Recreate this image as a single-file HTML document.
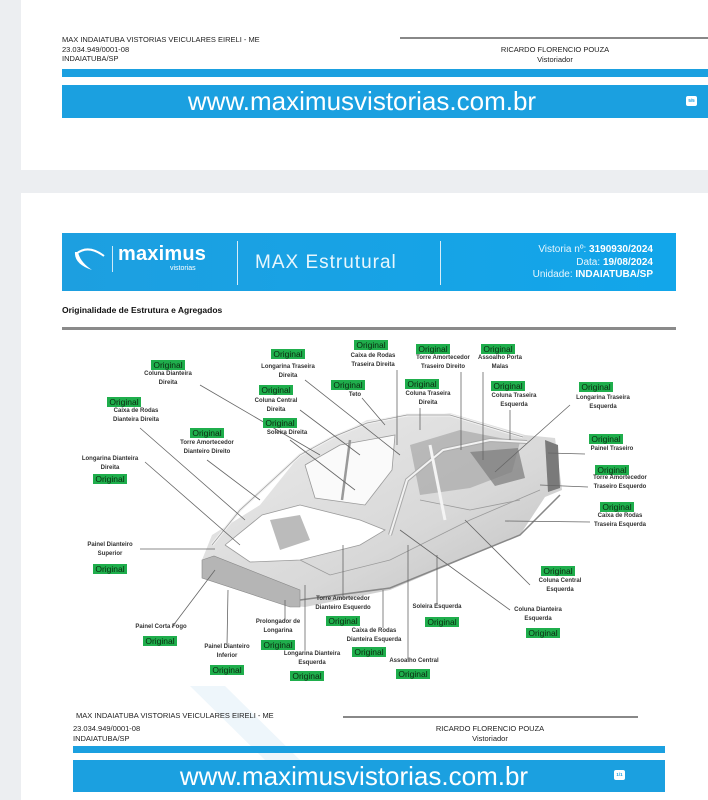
<!DOCTYPE html>
<html><head><meta charset="utf-8">
<style>
*{margin:0;padding:0;box-sizing:border-box}
body{width:708px;height:800px;background:#eceef1;position:relative;overflow:hidden;font-family:"Liberation Sans",sans-serif}
.card{position:absolute;left:21px;right:0;background:#fff}
.a{position:absolute;white-space:nowrap}
.l{position:absolute;width:110px;margin-left:-55px;text-align:center;font-size:6px;font-weight:bold;color:#333;line-height:9px;font-family:"Liberation Sans",sans-serif}
.g{position:absolute;width:60px;margin-left:-30px;text-align:center;height:10px;line-height:10px;font-size:0}
.g span{display:inline-block;vertical-align:top;background:#1fae4c;color:#0b2a10;font-size:8.5px;line-height:10px;height:10px;padding:0 2px}
.ft{font-size:7.5px;color:#222;line-height:9.5px}
.url{color:#fff;font-size:26px;text-align:center;line-height:32px}
.badge{position:absolute;width:11px;height:10px;background:#fff;border-radius:2px;font-size:4.5px;color:#1ba0e0;text-align:center;line-height:10px;font-weight:bold}
</style></head><body>
<div class="card" style="top:0;height:170px"></div>
<div class="card" style="top:193px;height:607px"></div>

<div class="a ft" style="left:62px;top:35px">MAX INDAIATUBA VISTORIAS VEICULARES EIRELI - ME<br>23.034.949/0001-08<br>INDAIATUBA/SP</div>
<div class="a" style="left:400px;top:37px;width:308px;height:2px;background:#888"></div>
<div class="a ft" style="left:470px;top:45px;width:170px;text-align:center">RICARDO FLORENCIO POUZA<br>Vistoriador</div>
<div class="a" style="left:62px;top:69px;width:646px;height:8px;background:#1ba0e0"></div>
<div class="a url" style="left:62px;top:85px;width:646px;height:33px;background:#1ba0e0;padding-right:46px">www.maximusvistorias.com.br</div>
<div class="badge" style="left:686px;top:96px">5/5</div>

<div class="a" style="left:62px;top:233px;width:614px;height:58px;background:linear-gradient(90deg,#1d9fe0,#12a6ea)"></div>
<svg class="a" style="left:72px;top:246px" width="36" height="26"><path d="M4 8 Q16 -2 32 10" stroke="#fff" stroke-width="2" fill="none"/><path d="M3 6 Q2 18 20 24 Q8 16 6 6Z" fill="#fff"/></svg>
<div class="a" style="left:112px;top:246px;width:1px;height:26px;background:#cfeaf8"></div>
<div class="a" style="left:118px;top:243px;color:#fff;font-size:20px;font-weight:bold;letter-spacing:0.2px">maximus</div>
<div class="a" style="left:170px;top:265px;color:#fff;font-size:7px">vistorias</div>
<div class="a" style="left:237px;top:241px;width:1px;height:44px;background:#d6edf9"></div>
<div class="a" style="left:255px;top:252px;color:#e8f6fd;font-size:19px;letter-spacing:1px">MAX Estrutural</div>
<div class="a" style="left:440px;top:241px;width:1px;height:44px;background:#d6edf9"></div>
<div class="a" style="left:480px;top:244px;width:173px;text-align:right;color:#e8f6fd;font-size:10px;line-height:12.5px">Vistoria nº: <b style="color:#fff">3190930/2024</b><br>Data: <b style="color:#fff">19/08/2024</b><br>Unidade: <b style="color:#fff">INDAIATUBA/SP</b></div>

<div class="a" style="left:62px;top:305px;font-size:8.5px;font-weight:bold;color:#111">Originalidade de Estrutura e Agregados</div>
<div class="a" style="left:62px;top:327px;width:614px;height:3px;background:#8a8a8a"></div>

<svg class="a" style="left:0;top:0" width="708" height="800"><polygon points="190,686 225,686 300,760 265,760" fill="#eef6fb"/></svg>

<svg class="a" style="left:0;top:0" width="708" height="800">
<defs><linearGradient id="cg" x1="0" y1="0" x2="1" y2="1"><stop offset="0" stop-color="#ececec"/><stop offset="0.6" stop-color="#d8d8d8"/><stop offset="1" stop-color="#bdbdbd"/></linearGradient></defs>
<polygon points="202,560 212,535 260,505 300,455 367,420 450,413 525,435 555,438 562,490 545,497 520,535 390,590 305,607 285,605 202,578" fill="url(#cg)"/>
<polygon points="225,545 262,515 300,505 360,520 385,530 360,545 300,560 250,562" fill="#fff"/>
<polygon points="305,465 340,445 395,435 392,470 365,505 315,498" fill="#fafafa"/>
<polygon points="410,445 460,430 520,442 512,472 470,488 420,495" fill="#a8a8a8" opacity="0.7"/>
<polygon points="470,452 518,448 525,478 495,486" fill="#7a7a7a" opacity="0.7"/>
<polygon points="545,440 558,445 560,488 548,492" fill="#7a7a7a"/>
<polygon points="270,520 300,515 310,540 280,550" fill="#777" opacity="0.5"/>
<g stroke="#9a9a9a" stroke-width="0.8" fill="none">
<polyline points="225,545 262,515 300,505 360,520 385,530 360,545 300,560 250,562 225,545"/>
<polyline points="305,465 340,445 395,435 392,470 365,505 315,498 305,465"/>
<polyline points="300,560 330,575 390,560 470,520 540,490"/>
<polyline points="420,500 470,510 520,500"/>
</g>
<polyline points="390,535 407,480 443,450 490,440 527,442" stroke="#aaa" stroke-width="4" fill="none"/>
<polyline points="390,535 407,480 443,450 490,440 527,442" stroke="#f2f2f2" stroke-width="2" fill="none"/>
<polyline points="212,545 240,510 300,455 333,437 367,423 407,415 450,415 523,437" stroke="#f0f0f0" stroke-width="3" fill="none"/>
<polyline points="212,545 240,510 300,455 333,437 367,423 407,415 450,415 523,437" stroke="#999" stroke-width="0.7" fill="none"/>
<polygon points="202,560 214,556 300,590 300,607 290,607 202,578" fill="#b5b5b5" stroke="#888" stroke-width="0.6"/>
<polyline points="300,600 390,588 520,535 560,495" stroke="#888" stroke-width="1.5" fill="none"/>
<line x1="350" y1="440" x2="342" y2="500" stroke="#999" stroke-width="2.5"/>
<line x1="430" y1="445" x2="445" y2="520" stroke="#f4f4f4" stroke-width="3"/>
</svg>

<svg class="a" style="left:0;top:0" width="708" height="800" stroke="#666" stroke-width="0.8" fill="none">
<path d="M200 385L320 455M140 428L245 520M207 460L260 500M145 462L240 545M140 549L215 549M172 627L215 570M227 645L228 590M285 620L285 600M305 650L305 585M343 597L343 545M383 628L383 590M408 660L408 545M437 605L437 555M510 610L400 530M530 585L465 520M590 522L505 521M588 487L540 485M585 454L548 453M570 405L495 472M510 410L510 440M483 372L483 460M461 372L461 450M397 370L397 445M420 408L420 430M362 398L385 425M305 380L400 455M300 410L360 455M290 440L355 490"/>
</svg>

<div class="g" style="left:168px;top:360px"><span>Original</span></div><div class="l" style="left:168px;top:370px">Coluna Dianteira<br>Direita</div>
<div class="g" style="left:124px;top:397px"><span>Original</span></div><div class="l" style="left:136px;top:407px">Caixa de Rodas<br>Dianteira Direita</div>
<div class="g" style="left:207px;top:428px"><span>Original</span></div><div class="l" style="left:207px;top:439px">Torre Amortecedor<br>Dianteiro Direito</div>
<div class="l" style="left:110px;top:455px">Longarina Dianteira<br>Direita</div><div class="g" style="left:110px;top:474px"><span>Original</span></div>
<div class="l" style="left:110px;top:541px">Painel Dianteiro<br>Superior</div><div class="g" style="left:110px;top:564px"><span>Original</span></div>
<div class="l" style="left:161px;top:623px">Painel Corta Fogo</div><div class="g" style="left:160px;top:636px"><span>Original</span></div>
<div class="l" style="left:227px;top:643px">Painel Dianteiro<br>Inferior</div><div class="g" style="left:227px;top:665px"><span>Original</span></div>
<div class="l" style="left:278px;top:618px">Prolongador de<br>Longarina</div><div class="g" style="left:278px;top:640px"><span>Original</span></div>
<div class="l" style="left:312px;top:650px">Longarina Dianteira<br>Esquerda</div><div class="g" style="left:307px;top:671px"><span>Original</span></div>
<div class="l" style="left:343px;top:595px">Torre Amortecedor<br>Dianteiro Esquerdo</div><div class="g" style="left:343px;top:616px"><span>Original</span></div>
<div class="l" style="left:374px;top:627px">Caixa de Rodas<br>Dianteira Esquerda</div><div class="g" style="left:369px;top:647px"><span>Original</span></div>
<div class="l" style="left:414px;top:657px">Assoalho Central</div><div class="g" style="left:413px;top:669px"><span>Original</span></div>
<div class="l" style="left:437px;top:603px">Soleira Esquerda</div><div class="g" style="left:442px;top:617px"><span>Original</span></div>
<div class="l" style="left:538px;top:606px">Coluna Dianteira<br>Esquerda</div><div class="g" style="left:543px;top:628px"><span>Original</span></div>
<div class="g" style="left:558px;top:566px"><span>Original</span></div><div class="l" style="left:560px;top:577px">Coluna Central<br>Esquerda</div>
<div class="g" style="left:617px;top:502px"><span>Original</span></div><div class="l" style="left:620px;top:512px">Caixa de Rodas<br>Traseira Esquerda</div>
<div class="g" style="left:612px;top:465px"><span>Original</span></div><div class="l" style="left:620px;top:474px">Torre Amortecedor<br>Traseiro Esquerdo</div>
<div class="g" style="left:606px;top:434px"><span>Original</span></div><div class="l" style="left:612px;top:445px">Painel Traseiro</div>
<div class="g" style="left:596px;top:382px"><span>Original</span></div><div class="l" style="left:603px;top:394px">Longarina Traseira<br>Esquerda</div>
<div class="g" style="left:508px;top:381px"><span>Original</span></div><div class="l" style="left:514px;top:392px">Coluna Traseira<br>Esquerda</div>
<div class="g" style="left:498px;top:344px"><span>Original</span></div><div class="l" style="left:500px;top:354px">Assoalho Porta<br>Malas</div>
<div class="g" style="left:433px;top:344px"><span>Original</span></div><div class="l" style="left:443px;top:354px">Torre Amortecedor<br>Traseiro Direito</div>
<div class="g" style="left:422px;top:379px"><span>Original</span></div><div class="l" style="left:428px;top:390px">Coluna Traseira<br>Direita</div>
<div class="g" style="left:371px;top:340px"><span>Original</span></div><div class="l" style="left:373px;top:352px">Caixa de Rodas<br>Traseira Direita</div>
<div class="g" style="left:348px;top:380px"><span>Original</span></div><div class="l" style="left:355px;top:391px">Teto</div>
<div class="g" style="left:288px;top:349px"><span>Original</span></div><div class="l" style="left:288px;top:363px">Longarina Traseira<br>Direita</div>
<div class="g" style="left:276px;top:385px"><span>Original</span></div><div class="l" style="left:276px;top:397px">Coluna Central<br>Direita</div>
<div class="g" style="left:280px;top:418px"><span>Original</span></div><div class="l" style="left:287px;top:429px">Soleira Direita</div>

<div class="a ft" style="left:76px;top:711px">MAX INDAIATUBA VISTORIAS VEICULARES EIRELI - ME</div>
<div class="a ft" style="left:73px;top:724px">23.034.949/0001-08<br>INDAIATUBA/SP</div>
<div class="a" style="left:343px;top:716px;width:295px;height:2px;background:#888"></div>
<div class="a ft" style="left:405px;top:724px;width:170px;text-align:center">RICARDO FLORENCIO POUZA<br>Vistoriador</div>
<div class="a" style="left:73px;top:746px;width:592px;height:7px;background:#1ba0e0"></div>
<div class="a url" style="left:73px;top:760px;width:592px;height:32px;background:#1ba0e0;padding-right:30px">www.maximusvistorias.com.br</div>
<div class="badge" style="left:614px;top:770px">1/1</div>
</body></html>
